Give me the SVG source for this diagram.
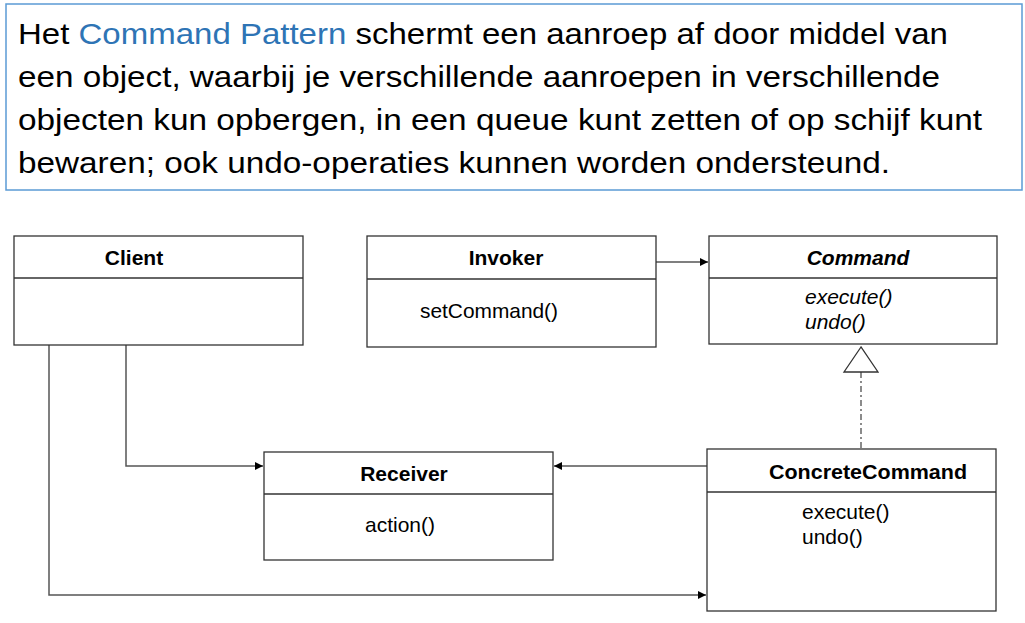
<svg xmlns="http://www.w3.org/2000/svg" width="1025" height="623" viewBox="0 0 1025 623">
<defs>
<style>
.hdr{font-family:"Liberation Sans",Arial,sans-serif;font-size:30px;fill:#000}
.blue{fill:#2E74B5}
.box{fill:#fff;stroke:#333;stroke-width:1.3}
.div{stroke:#333;stroke-width:1.3}
.ttl{font-family:"Liberation Sans",Arial,sans-serif;font-size:21px;font-weight:bold;fill:#000;text-anchor:middle}
.mth{font-family:"Liberation Sans",Arial,sans-serif;font-size:21px;fill:#000}
.it{font-style:italic}
.con{fill:none;stroke:#555;stroke-width:1.5}
</style>
<marker id="arr" viewBox="0 0 10 10" refX="10" refY="5" markerWidth="8" markerHeight="8" markerUnits="userSpaceOnUse" orient="auto">
<path d="M0,0 L10,5 L0,10 z" fill="#000"/>
</marker>
</defs>
<rect width="1025" height="623" fill="#fff"/>
<g id="header">
<rect x="6" y="4" width="1016" height="186" fill="#fff" stroke="#5B9BD5" stroke-width="1.5"/>
<text class="hdr" x="18" y="44" textLength="930" lengthAdjust="spacingAndGlyphs">Het <tspan class="blue">Command Pattern</tspan> schermt een aanroep af door middel van</text>
<text class="hdr" x="18" y="87" textLength="922" lengthAdjust="spacingAndGlyphs">een object, waarbij je verschillende aanroepen in verschillende</text>
<text class="hdr" x="18" y="130" textLength="964" lengthAdjust="spacingAndGlyphs">objecten kun opbergen, in een queue kunt zetten of op schijf kunt</text>
<text class="hdr" x="18" y="173" textLength="872" lengthAdjust="spacingAndGlyphs">bewaren; ook undo-operaties kunnen worden ondersteund.</text>
</g>
<g id="connectors">
<line class="con" x1="656" y1="262" x2="708" y2="262" marker-end="url(#arr)"/>
<polyline class="con" points="126,345 126,466 263,466" marker-end="url(#arr)"/>
<polyline class="con" points="49,345 49,595 706,595" marker-end="url(#arr)"/>
<line class="con" x1="707" y1="466" x2="554" y2="466" marker-end="url(#arr)"/>
<line x1="861" y1="372" x2="861" y2="449" stroke="#666" stroke-width="1.5" stroke-dasharray="6,3,2,3"/>
<polygon points="861,347 844,372 878,372" fill="#fff" stroke="#333" stroke-width="1.3"/>
</g>
<g id="client">
<rect class="box" x="14" y="236" width="289" height="109"/>
<line class="div" x1="14" y1="278" x2="303" y2="278"/>
<text class="ttl" x="134" y="265">Client</text>
</g>
<g id="invoker">
<rect class="box" x="367" y="236" width="289" height="111"/>
<line class="div" x1="367" y1="279" x2="656" y2="279"/>
<text class="ttl" x="506" y="265">Invoker</text>
<text class="mth" x="420" y="318" textLength="138" lengthAdjust="spacingAndGlyphs">setCommand()</text>
</g>
<g id="command">
<rect class="box" x="709" y="236" width="288" height="108"/>
<line class="div" x1="709" y1="278" x2="997" y2="278"/>
<text class="ttl it" x="858" y="265">Command</text>
<text class="mth it" x="805" y="304">execute()</text>
<text class="mth it" x="805" y="329">undo()</text>
</g>
<g id="receiver">
<rect class="box" x="264" y="452" width="289" height="108"/>
<line class="div" x1="264" y1="494" x2="553" y2="494"/>
<text class="ttl" x="404" y="481">Receiver</text>
<text class="mth" x="400" y="532" text-anchor="middle">action()</text>
</g>
<g id="concretecommand">
<rect class="box" x="707" y="449" width="289" height="162"/>
<line class="div" x1="707" y1="492" x2="996" y2="492"/>
<text class="ttl" x="868" y="479" textLength="198" lengthAdjust="spacingAndGlyphs">ConcreteCommand</text>
<text class="mth" x="802" y="519">execute()</text>
<text class="mth" x="802" y="544">undo()</text>
</g>
</svg>
